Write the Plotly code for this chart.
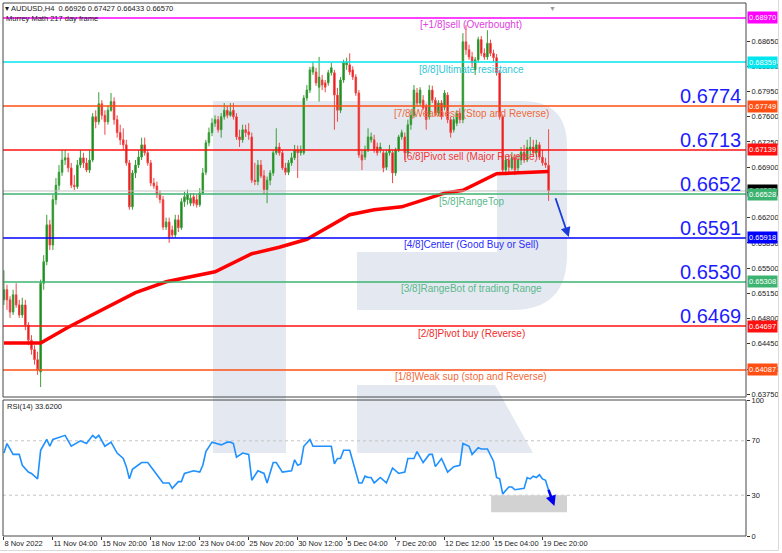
import math
import plotly.graph_objects as go

# ---------------- data ----------------
opens = [0.6506, 0.6520, 0.6506, 0.6489, 0.6513, 0.6499, 0.6485, 0.6499, 0.6471, 0.6450,
         0.6437, 0.6423, 0.6406, 0.6529, 0.6559, 0.6610, 0.6582, 0.6645, 0.6665, 0.6683,
         0.6700, 0.6703, 0.6689, 0.6665, 0.6663, 0.6693, 0.6703, 0.6696, 0.6686, 0.6700,
         0.6760, 0.6753, 0.6778, 0.6762, 0.6753, 0.6769, 0.6781, 0.6756, 0.6738, 0.6728,
         0.6721, 0.6696, 0.6635, 0.6682, 0.6693, 0.6704, 0.6721, 0.6710, 0.6696, 0.6668,
         0.6664, 0.6652, 0.6645, 0.6607, 0.6614, 0.6603, 0.6596, 0.6617, 0.6606, 0.6642,
         0.6645, 0.6640, 0.6649, 0.6645, 0.6638, 0.6654, 0.6683, 0.6724, 0.6738, 0.6751,
         0.6756, 0.6742, 0.6760, 0.6769, 0.6762, 0.6769, 0.6760, 0.6732, 0.6728, 0.6742,
         0.6739, 0.6732, 0.6672, 0.6670, 0.6693, 0.6678, 0.6659, 0.6672, 0.6682, 0.6710,
         0.6718, 0.6710, 0.6689, 0.6683, 0.6696, 0.6703, 0.6714, 0.6710, 0.6710, 0.6786,
         0.6797, 0.6822, 0.6822, 0.6801, 0.6811, 0.6807, 0.6807, 0.6821, 0.6821, 0.6790,
         0.6769, 0.6811, 0.6832, 0.6832, 0.6825, 0.6815, 0.6793, 0.6707, 0.6704, 0.6714,
         0.6728, 0.6728, 0.6718, 0.6714, 0.6710, 0.6690, 0.6710, 0.6710, 0.6682, 0.6714,
         0.6732, 0.6732, 0.6710, 0.6749, 0.6762, 0.6793, 0.6779, 0.6783, 0.6774, 0.6760,
         0.6797, 0.6783, 0.6765, 0.6779, 0.6773, 0.6790, 0.6756, 0.6742, 0.6751, 0.6765,
         0.6756, 0.6864, 0.6853, 0.6843, 0.6825, 0.6839, 0.6867, 0.6848, 0.6843, 0.6862,
         0.6848, 0.6842, 0.6821, 0.6760, 0.6686, 0.6700, 0.6689, 0.6703, 0.6689, 0.6700,
         0.6711, 0.6700, 0.6714, 0.6718, 0.6710, 0.6721, 0.6704, 0.6696, 0.66926]
highs = [0.6547, 0.6527, 0.6511, 0.6520, 0.6529, 0.6506, 0.6509, 0.6506, 0.6475, 0.6457,
         0.6443, 0.6434, 0.6534, 0.6568, 0.6624, 0.6617, 0.6652, 0.6675, 0.6693, 0.6714,
         0.6714, 0.6710, 0.6696, 0.6679, 0.6700, 0.6714, 0.6710, 0.6703, 0.6714, 0.6765,
         0.6769, 0.6794, 0.6783, 0.6769, 0.6776, 0.6793, 0.6787, 0.6762, 0.6749, 0.6744,
         0.6728, 0.6700, 0.6686, 0.6700, 0.6714, 0.6731, 0.6731, 0.6714, 0.6700, 0.6675,
         0.6670, 0.6658, 0.6650, 0.6620, 0.6620, 0.6609, 0.6624, 0.6624, 0.6647, 0.6656,
         0.6659, 0.6654, 0.6654, 0.6652, 0.6661, 0.6689, 0.6728, 0.6745, 0.6758, 0.6762,
         0.6761, 0.6765, 0.6779, 0.6775, 0.6779, 0.6779, 0.6765, 0.6742, 0.6749, 0.6749,
         0.6751, 0.6738, 0.6696, 0.6700, 0.6700, 0.6686, 0.6677, 0.6686, 0.6714, 0.6744,
         0.6724, 0.6714, 0.6696, 0.6700, 0.6710, 0.6721, 0.6720, 0.6720, 0.6790, 0.6804,
         0.6829, 0.6836, 0.6828, 0.6843, 0.6818, 0.6811, 0.6825, 0.6835, 0.6825, 0.6800,
         0.6815, 0.6839, 0.6842, 0.6848, 0.6830, 0.6819, 0.6797, 0.6714, 0.6720, 0.6744,
         0.6738, 0.6735, 0.6724, 0.6724, 0.6714, 0.6714, 0.6721, 0.6714, 0.6717, 0.6735,
         0.6742, 0.6738, 0.6756, 0.6769, 0.6804, 0.6800, 0.6801, 0.6790, 0.6778, 0.6804,
         0.6803, 0.6787, 0.6783, 0.6783, 0.6797, 0.6794, 0.6760, 0.6760, 0.6769, 0.6772,
         0.6876, 0.6887, 0.6860, 0.6850, 0.6843, 0.6871, 0.6872, 0.6855, 0.6880, 0.6867,
         0.6853, 0.6847, 0.6825, 0.6763, 0.6704, 0.6707, 0.6711, 0.6707, 0.6707, 0.6718,
         0.6721, 0.6728, 0.6732, 0.6728, 0.6728, 0.6725, 0.6714, 0.6703, 0.67427]
lows = [0.6499, 0.6492, 0.6481, 0.6485, 0.6495, 0.6481, 0.6481, 0.6464, 0.6443, 0.6430,
        0.6416, 0.6402, 0.6385, 0.6520, 0.6554, 0.6575, 0.6575, 0.6638, 0.6658, 0.6678,
        0.6693, 0.6683, 0.6661, 0.6658, 0.6660, 0.6689, 0.6689, 0.6683, 0.6682, 0.6697,
        0.6744, 0.6749, 0.6756, 0.6735, 0.6749, 0.6767, 0.6749, 0.6731, 0.6721, 0.6714,
        0.6692, 0.6631, 0.6631, 0.6675, 0.6689, 0.6700, 0.6706, 0.6692, 0.6664, 0.6660,
        0.6647, 0.6640, 0.6603, 0.6603, 0.6585, 0.6592, 0.6592, 0.6600, 0.6603, 0.6635,
        0.6638, 0.6636, 0.6636, 0.6634, 0.6635, 0.6652, 0.6679, 0.6719, 0.6733, 0.6746,
        0.6738, 0.6731, 0.6756, 0.6758, 0.6760, 0.6756, 0.6728, 0.6718, 0.6724, 0.6732,
        0.6728, 0.6668, 0.6665, 0.6665, 0.6675, 0.6652, 0.6640, 0.6665, 0.6678, 0.6707,
        0.6706, 0.6686, 0.6679, 0.6679, 0.6692, 0.6700, 0.6675, 0.6706, 0.6707, 0.6782,
        0.6793, 0.6818, 0.6803, 0.6781, 0.6797, 0.6794, 0.6803, 0.6817, 0.6742, 0.6753,
        0.6765, 0.6807, 0.6825, 0.6818, 0.6811, 0.6789, 0.6703, 0.6686, 0.6700, 0.6711,
        0.6724, 0.6710, 0.6706, 0.6710, 0.6683, 0.6686, 0.6706, 0.6668, 0.6678, 0.6711,
        0.6728, 0.6700, 0.6706, 0.6742, 0.6758, 0.6775, 0.6775, 0.6769, 0.6742, 0.6756,
        0.6779, 0.6761, 0.6761, 0.6756, 0.6769, 0.6751, 0.6731, 0.6738, 0.6747, 0.6751,
        0.6751, 0.6846, 0.6839, 0.6828, 0.6818, 0.6835, 0.6844, 0.6839, 0.6839, 0.6844,
        0.6836, 0.6817, 0.6756, 0.6682, 0.6679, 0.6683, 0.6686, 0.6679, 0.6683, 0.6693,
        0.6696, 0.6697, 0.6707, 0.6704, 0.6704, 0.6700, 0.6692, 0.6689, 0.66433]
closes = [0.6520, 0.6506, 0.6489, 0.6513, 0.6499, 0.6485, 0.6499, 0.6471, 0.6450, 0.6437,
          0.6423, 0.6409, 0.6529, 0.6559, 0.6610, 0.6582, 0.6645, 0.6665, 0.6683, 0.6700,
          0.6703, 0.6689, 0.6665, 0.6663, 0.6693, 0.6703, 0.6696, 0.6686, 0.6700, 0.6760,
          0.6753, 0.6778, 0.6762, 0.6753, 0.6769, 0.6781, 0.6756, 0.6738, 0.6728, 0.6721,
          0.6696, 0.6635, 0.6682, 0.6693, 0.6704, 0.6721, 0.6710, 0.6696, 0.6668, 0.6664,
          0.6652, 0.6645, 0.6607, 0.6614, 0.6593, 0.6596, 0.6617, 0.6606, 0.6642, 0.6649,
          0.6652, 0.6647, 0.6640, 0.6638, 0.6654, 0.6682, 0.6724, 0.6738, 0.6751, 0.6756,
          0.6742, 0.6760, 0.6769, 0.6762, 0.6767, 0.6760, 0.6732, 0.6728, 0.6742, 0.6738,
          0.6735, 0.6672, 0.6670, 0.6693, 0.6678, 0.6659, 0.6672, 0.6682, 0.6710, 0.6718,
          0.6710, 0.6689, 0.6683, 0.6696, 0.6703, 0.6714, 0.6710, 0.6714, 0.6786, 0.6797,
          0.6825, 0.6829, 0.6807, 0.6815, 0.6804, 0.6801, 0.6821, 0.6828, 0.6790, 0.6769,
          0.6811, 0.6835, 0.6835, 0.6822, 0.6815, 0.6793, 0.6707, 0.6700, 0.6714, 0.6732,
          0.6732, 0.6714, 0.6710, 0.6718, 0.6689, 0.6710, 0.6714, 0.6682, 0.6714, 0.6732,
          0.6738, 0.6710, 0.6749, 0.6762, 0.6797, 0.6779, 0.6797, 0.6772, 0.6756, 0.6797,
          0.6783, 0.6765, 0.6779, 0.6760, 0.6793, 0.6756, 0.6738, 0.6756, 0.6765, 0.6756,
          0.6864, 0.6853, 0.6843, 0.6835, 0.6839, 0.6867, 0.6848, 0.6843, 0.6862, 0.6848,
          0.6842, 0.6821, 0.6760, 0.6686, 0.6700, 0.6690, 0.6703, 0.6686, 0.6700, 0.6711,
          0.6700, 0.6717, 0.6718, 0.6710, 0.6721, 0.6704, 0.6696, 0.6693, 0.66570]
bar_index = list(range(len(closes)))

# moving average (thick red line), sampled along its path
ma_bars = [0, 12, 21, 32, 43, 53, 69, 81, 90, 99, 113, 121, 130, 144, 150, 161, 178]
ma_values = [0.6446, 0.6446, 0.6468, 0.6492, 0.6516, 0.6531, 0.6545, 0.6570, 0.6579,
             0.6590, 0.6624, 0.6631, 0.6635, 0.6654, 0.6658, 0.6681, 0.6684]

# RSI(14)
rsi_bars = [0, 1, 3, 5, 6, 8, 9, 11, 12, 14, 15, 16, 20, 22, 25, 27, 29, 30, 31, 33,
            35, 37, 39, 40, 41, 42, 45, 47, 50, 52, 54, 55, 57, 58, 59, 61, 62, 64, 65, 66,
            67, 68, 71, 73, 74, 75, 76, 78, 80, 81, 83, 85, 86, 88, 89, 91, 94, 95, 96, 97,
            98, 100, 101, 104, 105, 107, 108, 109, 110, 111, 113, 114, 115, 116, 117, 118, 119, 120, 121, 123,
            125, 127, 129, 131, 132, 134, 135, 137, 139, 140, 141, 143, 145, 147, 149, 150, 152, 153, 155, 156,
            158, 160, 161, 162, 163, 165, 166, 167, 169, 170, 171, 172, 173, 174, 175, 176, 177, 178]
rsi_values = [61, 68, 60, 60, 52, 47, 46, 42, 63, 71, 66, 71, 74, 66, 70, 68, 74, 72, 74, 66,
              69, 61, 57, 51, 42, 49, 54, 54, 45, 39, 39, 35, 40, 40, 46, 47, 48, 47, 52, 62,
              66, 69, 67, 69, 69, 68, 58, 61, 60, 41, 48, 46, 39, 54, 54, 47, 48, 56, 52, 53,
              66, 71, 66, 66, 66, 66, 53, 57, 57, 63, 63, 54, 47, 39, 39, 44, 43, 43, 39, 43,
              39, 50, 46, 47, 57, 57, 62, 54, 60, 60, 51, 57, 47, 51, 52, 68, 66, 60, 65, 64,
              64, 55, 43, 42, 31, 36, 36, 34, 35, 35, 43, 42, 44, 43, 45, 42, 41, 33.62]

# Murrey Math levels
murrey_levels = [0.68970, 0.68359, 0.67749, 0.67139, 0.66528, 0.65918, 0.65308, 0.64697, 0.64087]
murrey_names = ["[+1/8]sell (Overbought)", "[8/8]Ultimate resistance",
                "[7/8]Weakness (Stop and Reverse)", "[6/8]Pivot sell (Major Reverse)",
                "[5/8]RangeTop", "[4/8]Center (Good Buy or Sell)",
                "[3/8]RangeBot of trading Range", "[2/8]Pivot buy (Reverse)",
                "[1/8]Weak sup (stop and Reverse)"]
murrey_line_colors = ["#ff00ff", "#00e5ee", "#ff4f14", "#ff1010", "#3cb371",
                      "#0000ff", "#3cb371", "#ff1010", "#ff4f14"]
murrey_text_colors = ["#e040e0", "#30c8d8", "#f06a3a", "#f03838", "#5cb88a",
                      "#2b2bff", "#5cb88a", "#f02a2a", "#f06a3a"]
key_levels = [0.67749, 0.67139, 0.66528, 0.65918, 0.65308, 0.64697]

price_ticks = [0.68650, 0.68300, 0.67950, 0.67600, 0.67250, 0.66900, 0.66550, 0.66200,
               0.65850, 0.65500, 0.65150, 0.64800, 0.64450, 0.64100, 0.63750]
time_tick_bars = [0, 16, 32, 48, 64, 80, 96, 112, 128, 144, 160, 176]
time_tick_labels = ["8 Nov 2022", "11 Nov 04:00", "15 Nov 20:00", "18 Nov 12:00",
                    "23 Nov 04:00", "25 Nov 20:00", "30 Nov 12:00", "5 Dec 04:00",
                    "7 Dec 20:00", "12 Dec 12:00", "15 Dec 04:00", "19 Dec 20:00"]
rsi_ticks = [0, 30, 70, 100]
rsi_levels = [30, 70]

# ---------------- geometry ----------------
W, H = 782, 553
ML, MR, MT, MB = 3, 36, 3, 17
PW, PH = W - ML - MR, H - MT - MB
MAIN_BOTTOM_PX = 397
RSI_TOP_PX = 400


def px_x(px):
    return (px - ML) / PW


def px_y(py):
    return 1 - (py - MT) / PH


FONT = "Arial, Liberation Sans, sans-serif"

fig = go.Figure()

fig.add_trace(go.Candlestick(
    x=bar_index, open=opens, high=highs, low=lows, close=closes,
    xaxis="x", yaxis="y",
    increasing=dict(line=dict(color="#3a9e3a", width=1), fillcolor="#0b820b"),
    decreasing=dict(line=dict(color="#f04848", width=1), fillcolor="#e60000"),
    whiskerwidth=0, hoverinfo="skip", showlegend=False))

fig.add_trace(go.Scatter(x=ma_bars, y=ma_values, mode="lines", xaxis="x", yaxis="y",
                         line=dict(color="#ff0000", width=3.5), hoverinfo="skip"))

fig.add_trace(go.Scatter(x=rsi_bars, y=rsi_values, mode="lines", xaxis="x2", yaxis="y2",
                         line=dict(color="#1e90ff", width=1.6), hoverinfo="skip"))

shapes = []
# RoboForex-like watermark "R"
path = "M {},{} L {},{} Q {},{} {},{} L {},{} Q {},{} {},{} L {},{} L {},{} L {},{} L {},{} L {},{} L {},{} L {},{} Z".format(
    px_x(213), px_y(101), px_x(522), px_y(101), px_x(567), px_y(101), px_x(567), px_y(146),
    px_x(567), px_y(255), px_x(567), px_y(310), px_x(512), px_y(310),
    px_x(357), px_y(310), px_x(357), px_y(252), px_x(497), px_y(252), px_x(497), px_y(171),
    px_x(286), px_y(171), px_x(286), px_y(453), px_x(213), px_y(453))
shapes.append(dict(type="path", xref="paper", yref="paper", path=path,
                   fillcolor="#e4e9f1", line=dict(width=0), layer="below"))
leg = "M {},{} L {},{} L {},{} L {},{} Z".format(
    px_x(357), px_y(385), px_x(495), px_y(385), px_x(533), px_y(453), px_x(357), px_y(453))
shapes.append(dict(type="path", xref="paper", yref="paper", path=leg,
                   fillcolor="#e4e9f1", line=dict(width=0), layer="below"))

# RSI grey box
shapes.append(dict(type="rect", xref="x2", yref="y2", x0=159.2, x1=184, y0=17.4, y1=30,
                   fillcolor="#d2d2d2", line=dict(width=0), layer="below"))
# RSI level lines
for lv in rsi_levels:
    shapes.append(dict(type="line", xref="paper", yref="y2", x0=0, x1=1, y0=lv, y1=lv,
                       line=dict(color="#c4c4c4", width=1, dash="dot"), layer="below"))

# bid line
shapes.append(dict(type="line", xref="paper", yref="y", x0=0, x1=1, y0=closes[-1], y1=closes[-1],
                   line=dict(color="#c0c0c0", width=1)))
# Murrey levels
for lv, c in zip(murrey_levels, murrey_line_colors):
    shapes.append(dict(type="line", xref="paper", yref="y", x0=0, x1=1, y0=lv, y1=lv,
                       line=dict(color=c, width=1.6)))

# panel frames
main_bottom = px_y(MAIN_BOTTOM_PX)
rsi_top = px_y(RSI_TOP_PX)
shapes.append(dict(type="rect", xref="paper", yref="paper", x0=0, x1=1, y0=main_bottom, y1=1,
                   line=dict(color="#474747", width=1)))
shapes.append(dict(type="rect", xref="paper", yref="paper", x0=0, x1=1, y0=0, y1=rsi_top,
                   line=dict(color="#474747", width=1)))
# window edge
shapes.append(dict(type="line", xref="paper", yref="paper", x0=px_x(778.5), x1=px_x(778.5),
                   y0=px_y(550.5), y1=px_y(0), line=dict(color="#dadada", width=1)))
shapes.append(dict(type="line", xref="paper", yref="paper", x0=px_x(0), x1=px_x(778.5),
                   y0=px_y(550.5), y1=px_y(550.5), line=dict(color="#dadada", width=1)))

ann = []
# header
ann.append(dict(xref="paper", yref="paper", x=px_x(3), y=px_y(8), xanchor="left", yanchor="middle",
                showarrow=False, font=dict(family=FONT, size=7.5, color="#1a1a1a"),
                text="▾\u00a0AUDUSD,H4\u00a0\u00a0{:.5f} {:.5f} {:.5f} {:.5f}".format(
                    opens[-1], highs[-1], lows[-1], closes[-1])))
ann.append(dict(xref="paper", yref="paper", x=px_x(4), y=px_y(18), xanchor="left", yanchor="middle",
                showarrow=False, font=dict(family=FONT, size=7.5, color="#1a1a1a"),
                text="Murrey Math 217 day frame"))
ann.append(dict(xref="paper", yref="paper", x=px_x(5), y=px_y(406), xanchor="left", yanchor="middle",
                showarrow=False, font=dict(family=FONT, size=7.5, color="#1a1a1a"),
                text="RSI(14) {:.4f}".format(rsi_values[-1])))
ann.append(dict(xref="paper", yref="paper", x=px_x(552), y=px_y(3), xanchor="center", yanchor="top",
                showarrow=False, font=dict(family=FONT, size=7, color="#9a9a9a"), text="▼"))

# level names
for lv, name, c in zip(murrey_levels, murrey_names, murrey_text_colors):
    ann.append(dict(xref="paper", yref="y", x=px_x(471), y=lv, yshift=-7, xanchor="center",
                    yanchor="middle", showarrow=False, text=name,
                    font=dict(family=FONT, size=10, color=c)))

# big blue level values
for lv in key_levels:
    ann.append(dict(xref="paper", yref="y", x=1, y=lv, xshift=-3, yshift=-3, xanchor="right",
                    yanchor="bottom", showarrow=False,
                    text="{:.4f}".format(math.floor(lv * 10000 + 1e-6) / 10000),
                    font=dict(family=FONT, size=20, color="#1c1cff")))

# price tags on the right axis
ann.append(dict(xref="paper", yref="y", x=1, y=closes[-1], xshift=1, xanchor="left", yanchor="middle",
                showarrow=False, text="{:.5f}".format(closes[-1]), bgcolor="#000000", borderpad=1,
                font=dict(family=FONT, size=7.5, color="white")))
for lv, c in zip(murrey_levels, murrey_line_colors):
    ann.append(dict(xref="paper", yref="y", x=1, y=lv, xshift=1, xanchor="left", yanchor="middle",
                    showarrow=False, text="{:.5f}".format(lv), bgcolor=c, borderpad=1,
                    font=dict(family=FONT, size=7.5, color="white")))

# forecast arrows
ann.append(dict(xref="x", yref="y", axref="x", ayref="y", x=184.6, y=0.6593, ax=180.1, ay=0.6649,
                showarrow=True, arrowhead=2, arrowsize=1.1, arrowwidth=1.8, arrowcolor="#1a3cd8",
                text=""))
ann.append(dict(xref="x2", yref="y2", axref="x2", ayref="y2", x=179.9, y=22.0, ax=177.8, ay=35.0,
                showarrow=True, arrowhead=2, arrowsize=0.8, arrowwidth=2.6, arrowcolor="#0000f0",
                text=""))

x_range = [-0.3, -0.3 + PW / 3.06]
fig.update_layout(
    width=W, height=H, margin=dict(l=ML, r=MR, t=MT, b=MB, autoexpand=False),
    plot_bgcolor="white", paper_bgcolor="white", showlegend=False,
    font=dict(family=FONT, size=8, color="#222"),
    shapes=shapes, annotations=ann,
    xaxis=dict(domain=[0, 1], range=x_range, anchor="y", showticklabels=False, showgrid=False,
               zeroline=False, showline=False, ticks="", automargin=False,
               rangeslider=dict(visible=False)),
    xaxis2=dict(domain=[0, 1], range=x_range, anchor="y2", showgrid=False, zeroline=False,
                showline=False, tickvals=time_tick_bars, ticktext=time_tick_labels,
                ticks="outside", ticklen=3, tickcolor="#333", ticklabelposition="outside right",
                tickangle=0, automargin=False,
                tickfont=dict(family=FONT, size=7.5, color="#222")),
    yaxis=dict(domain=[main_bottom, 1], range=[0.63712, 0.69178], anchor="x", side="right",
               showgrid=False, zeroline=False, showline=False, tickvals=price_ticks,
               ticktext=["{:.5f}".format(v) for v in price_ticks], ticks="outside", ticklen=3,
               tickcolor="#333", automargin=False, tickfont=dict(family=FONT, size=7.5, color="#222")),
    yaxis2=dict(domain=[0, rsi_top], range=[0, 100], anchor="x2", side="right",
                showgrid=False, zeroline=False, showline=False, tickvals=rsi_ticks,
                ticks="outside", ticklen=3, tickcolor="#333", automargin=False,
                tickfont=dict(family=FONT, size=7.5, color="#222")),
)

fig.write_html("out.html", config={"displayModeBar": False, "staticPlot": True},
               post_script="document.body.style.margin='0px';document.body.style.padding='0px';"
                           "document.body.style.overflow='hidden';")
